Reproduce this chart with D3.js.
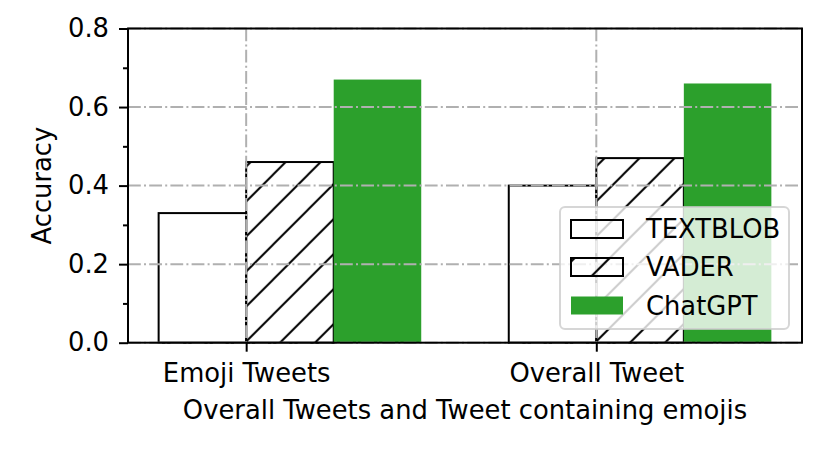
<!DOCTYPE html>
<html><head><meta charset="utf-8">
<script src="https://cdn.jsdelivr.net/npm/d3@7"></script>
<style>body{margin:0;background:#fff}svg{display:block}text{font-family:"DejaVu Sans",sans-serif}</style>
</head><body><svg id="c" width="830" height="457"></svg>
<script>
const categories = ["Emoji Tweets", "Overall Tweet"];
const seriesNames = ["TEXTBLOB", "VADER", "ChatGPT"];
const textblob = [0.33, 0.40];
const vader = [0.46, 0.47];
const chatgpt = [0.67, 0.66];
const yTicks = [0.0, 0.2, 0.4, 0.6, 0.8];
const yMinor = [0.1, 0.3, 0.5, 0.7];
const xLabel = "Overall Tweets and Tweet containing emojis";
const yLabel = "Accuracy";

const svg = d3.select("#c");
const L = 128, R = 802, T = 28.5, B = 342.7;
const FS = 25.8;
const x = d3.scaleLinear().domain([-0.3375, 1.5875]).range([L, R]);
const y = d3.scaleLinear().domain([0, 0.8]).range([B, T]);
const bw = 0.25;

const defs = svg.append("defs");
const P = 35;
["hatch", "hatchL"].forEach(id => {
  const pat = defs.append("pattern").attr("id", id).attr("patternUnits", "userSpaceOnUse")
    .attr("width", P).attr("height", P).attr("x", 27.7).attr("y", 0);
  pat.append("path").attr("d", `M${-P},${P} L${P},${-P} M0,${P} L${P},0 M0,${2*P} L${2*P},0`)
    .attr("stroke", "#000").attr("stroke-width", 2);
});

const series = [
  {name: seriesNames[0], vals: textblob, off: -bw, fill: "none", stroke: "#000"},
  {name: seriesNames[1], vals: vader, off: 0, fill: "url(#hatch)", stroke: "#000"},
  {name: seriesNames[2], vals: chatgpt, off: bw, fill: "#2ca02c", stroke: "none"}
];

const g = svg.append("g");
series.forEach(s => {
  g.selectAll(null).data(s.vals).enter().append("rect")
    .attr("x", (d, i) => x(i + s.off))
    .attr("y", d => y(d))
    .attr("width", (d, i) => x(i + s.off + bw) - x(i + s.off))
    .attr("height", d => y(0) - y(d))
    .attr("fill", s.fill)
    .attr("stroke", s.stroke)
    .attr("stroke-width", s.stroke === "none" ? 0 : 2);
});

// grid on top
const grid = svg.append("g").attr("stroke", "#b0b0b0").attr("stroke-width", 2)
  .attr("stroke-dasharray", "12.8,3.2,2,3.2").attr("fill", "none");
yTicks.forEach(t => grid.append("line").attr("x1", L).attr("x2", R).attr("y1", y(t)).attr("y2", y(t)));
categories.forEach((c, i) => grid.append("line").attr("x1", x(i)).attr("x2", x(i)).attr("y1", T).attr("y2", B));

// axes
const yAxis = svg.append("g").attr("transform", `translate(${L},0)`)
  .call(d3.axisLeft(y).tickValues(yTicks).tickFormat(d3.format(".1f")).tickSizeOuter(0).tickSize(9).tickPadding(10));
const yAxisMinor = svg.append("g").attr("transform", `translate(${L},0)`)
  .call(d3.axisLeft(y).tickValues(yMinor).tickFormat("").tickSizeOuter(0).tickSize(5));
const xAxis = svg.append("g").attr("transform", `translate(0,${B})`)
  .call(d3.axisBottom(x).tickValues([0, 1]).tickFormat((d) => categories[d]).tickSizeOuter(0).tickSize(9).tickPadding(12));
[yAxis, yAxisMinor, xAxis].forEach(a => {
  a.select(".domain").remove();
  a.selectAll(".tick line").attr("stroke", "#000").attr("stroke-width", 2);
  a.selectAll(".tick text").attr("font-size", FS).attr("fill", "#000").attr("font-family", "DejaVu Sans");
});

// spines
svg.append("rect").attr("x", L).attr("y", T).attr("width", R - L).attr("height", B - T)
  .attr("fill", "none").attr("stroke", "#000").attr("stroke-width", 2);

// labels
svg.append("text").attr("x", (L + R) / 2).attr("y", 419).attr("text-anchor", "middle")
  .attr("font-size", FS).text(xLabel);
svg.append("text").attr("transform", `translate(51,${(T + B) / 2}) rotate(-90)`).attr("text-anchor", "middle")
  .attr("font-size", FS).text(yLabel);

// legend
const lg = svg.append("g");
lg.append("rect").attr("x", 560).attr("y", 207).attr("width", 229).attr("height", 122).attr("rx", 5)
  .attr("fill", "rgba(255,255,255,0.8)").attr("stroke", "rgba(204,204,204,0.8)").attr("stroke-width", 2);
const rows = [229, 267, 305.5];
series.forEach((s, i) => {
  lg.append("rect").attr("x", 571).attr("y", rows[i] - 9).attr("width", 52).attr("height", 18)
    .attr("fill", s.fill === "url(#hatch)" ? "url(#hatchL)" : s.fill)
    .attr("stroke", s.stroke).attr("stroke-width", s.stroke === "none" ? 0 : 2);
  lg.append("text").attr("x", 646).attr("y", rows[i]).attr("dy", "0.36em").attr("font-size", FS).text(s.name);
});
</script></body></html>
